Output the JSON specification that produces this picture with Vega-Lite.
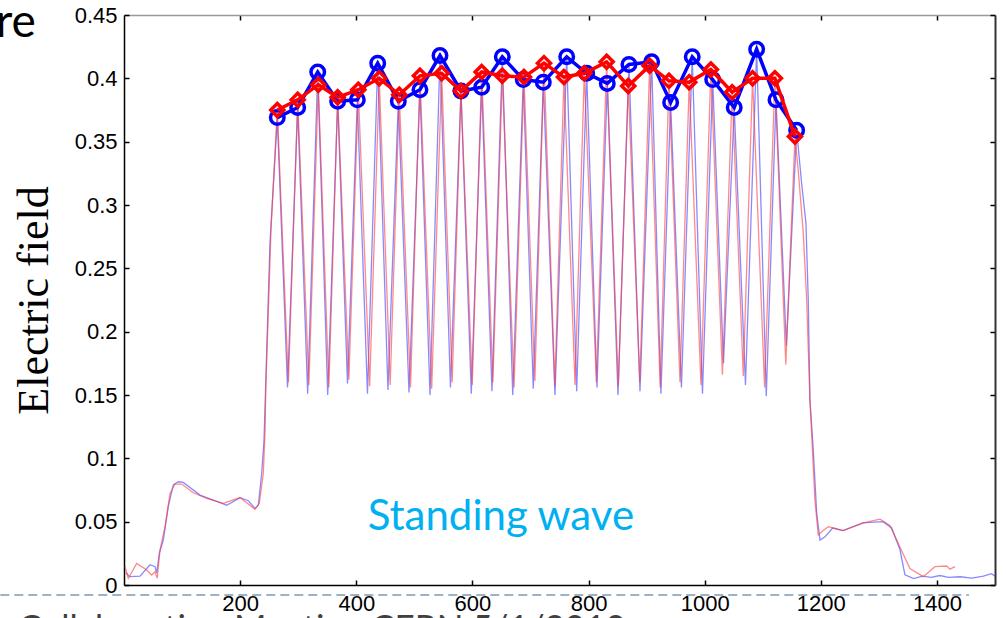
{
  "$schema": "https://vega.github.io/schema/vega-lite/v6.json",
  "autosize": {"type": "none"},
  "padding": {"left": 124, "top": 15, "right": 11, "bottom": 33},
  "width": 871,
  "height": 570,
  "background": "white",
  "config": {"view": {"stroke": null}},
  "datasets": {
    "traceBlue": [
      {"x": 3.4, "y": 0.0095}, {"x": 10.3, "y": 0.0066}, {"x": 27.6, "y": 0.007}, {"x": 44.8, "y": 0.016}, {"x": 53.4, "y": 0.0145}, {"x": 56.3, "y": 0.0095}, {"x": 60.8, "y": 0.025}, {"x": 67.7, "y": 0.0355}, {"x": 76.3, "y": 0.062}, {"x": 84.9, "y": 0.079}, {"x": 93.5, "y": 0.0815}, {"x": 102.1, "y": 0.081}, {"x": 130.9, "y": 0.071}, {"x": 159.6, "y": 0.066}, {"x": 176.9, "y": 0.063}, {"x": 199.8, "y": 0.069}, {"x": 214.1, "y": 0.0665}, {"x": 225.6, "y": 0.0605}, {"x": 231.3, "y": 0.063}, {"x": 237.1, "y": 0.088}, {"x": 241.1, "y": 0.114}, {"x": 242.8, "y": 0.14}, {"x": 251.4, "y": 0.27},
      {"x": 264.0, "y": 0.369}, {"x": 281.6, "y": 0.156}, {"x": 299.1, "y": 0.377}, {"x": 316.3, "y": 0.151}, {"x": 333.6, "y": 0.405}, {"x": 350.8, "y": 0.150}, {"x": 368.0, "y": 0.382}, {"x": 384.9, "y": 0.159}, {"x": 401.8, "y": 0.383}, {"x": 419.3, "y": 0.151}, {"x": 436.9, "y": 0.412}, {"x": 454.6, "y": 0.154}, {"x": 472.4, "y": 0.382}, {"x": 490.8, "y": 0.152}, {"x": 509.7, "y": 0.391}, {"x": 527.0, "y": 0.150}, {"x": 544.2, "y": 0.418}, {"x": 562.2, "y": 0.156}, {"x": 580.3, "y": 0.390}, {"x": 598.1, "y": 0.151}, {"x": 616.0, "y": 0.393}, {"x": 633.7, "y": 0.153}, {"x": 651.5, "y": 0.417}, {"x": 669.5, "y": 0.150}, {"x": 687.6, "y": 0.399}, {"x": 704.8, "y": 0.155}, {"x": 722.1, "y": 0.397}, {"x": 742.2, "y": 0.150}, {"x": 762.4, "y": 0.417}, {"x": 779.6, "y": 0.153}, {"x": 796.8, "y": 0.404}, {"x": 814.5, "y": 0.156}, {"x": 832.3, "y": 0.396}, {"x": 850.7, "y": 0.150}, {"x": 869.6, "y": 0.411}, {"x": 888.6, "y": 0.153}, {"x": 908.7, "y": 0.413}, {"x": 924.7, "y": 0.151}, {"x": 941.4, "y": 0.381}, {"x": 960.0, "y": 0.156}, {"x": 978.6, "y": 0.417}, {"x": 996.2, "y": 0.151}, {"x": 1013.8, "y": 0.399}, {"x": 1032.4, "y": 0.175}, {"x": 1050.9, "y": 0.377}, {"x": 1070.3, "y": 0.158}, {"x": 1089.5, "y": 0.423}, {"x": 1106.1, "y": 0.149}, {"x": 1122.8, "y": 0.383}, {"x": 1140.7, "y": 0.189}, {"x": 1158.4, "y": 0.359},
      {"x": 1167.0, "y": 0.317}, {"x": 1174.4, "y": 0.286}, {"x": 1178.4, "y": 0.225}, {"x": 1181.3, "y": 0.146}, {"x": 1187.0, "y": 0.107}, {"x": 1192.9, "y": 0.057}, {"x": 1198.6, "y": 0.0355}, {"x": 1207.2, "y": 0.038}, {"x": 1220.4, "y": 0.045}, {"x": 1238.2, "y": 0.043}, {"x": 1272.6, "y": 0.049}, {"x": 1307.0, "y": 0.050}, {"x": 1322.0, "y": 0.045}, {"x": 1336.3, "y": 0.028}, {"x": 1344.9, "y": 0.008}, {"x": 1360, "y": 0.005}, {"x": 1375, "y": 0.007}, {"x": 1390, "y": 0.006}, {"x": 1405, "y": 0.0075}, {"x": 1420, "y": 0.006}, {"x": 1440, "y": 0.0065}, {"x": 1460, "y": 0.0055}, {"x": 1480, "y": 0.007}, {"x": 1494, "y": 0.009}, {"x": 1500, "y": 0.007}
    ],
    "traceRed": [
      {"x": 1.7, "y": 0.0145}, {"x": 7.4, "y": 0.0053}, {"x": 21.9, "y": 0.017}, {"x": 39.1, "y": 0.0118}, {"x": 47.7, "y": 0.0079}, {"x": 53.4, "y": 0.0105}, {"x": 57.3, "y": 0.0053}, {"x": 62.0, "y": 0.0276}, {"x": 70.6, "y": 0.046}, {"x": 79.2, "y": 0.072}, {"x": 87.8, "y": 0.0797}, {"x": 99.4, "y": 0.0797}, {"x": 119.3, "y": 0.0728}, {"x": 142.4, "y": 0.0684}, {"x": 171.0, "y": 0.0645}, {"x": 199.8, "y": 0.069}, {"x": 225.6, "y": 0.0597}, {"x": 233.0, "y": 0.0645}, {"x": 239.9, "y": 0.088}, {"x": 242.8, "y": 0.12}, {"x": 244.5, "y": 0.16}, {"x": 253.1, "y": 0.28},
      {"x": 264.0, "y": 0.375}, {"x": 283.1, "y": 0.160}, {"x": 299.1, "y": 0.383}, {"x": 318.4, "y": 0.158}, {"x": 334.6, "y": 0.395}, {"x": 352.8, "y": 0.156}, {"x": 368.0, "y": 0.385}, {"x": 387.3, "y": 0.162}, {"x": 403.5, "y": 0.391}, {"x": 423.1, "y": 0.157}, {"x": 439.6, "y": 0.400}, {"x": 458.4, "y": 0.158}, {"x": 474.1, "y": 0.387}, {"x": 493.4, "y": 0.156}, {"x": 509.7, "y": 0.402}, {"x": 529.9, "y": 0.155}, {"x": 547.1, "y": 0.404}, {"x": 565.2, "y": 0.160}, {"x": 580.3, "y": 0.390}, {"x": 599.7, "y": 0.158}, {"x": 616.0, "y": 0.405}, {"x": 635.3, "y": 0.160}, {"x": 651.5, "y": 0.402}, {"x": 671.7, "y": 0.156}, {"x": 688.8, "y": 0.401}, {"x": 707.6, "y": 0.161}, {"x": 723.3, "y": 0.412}, {"x": 742.0, "y": 0.157}, {"x": 757.7, "y": 0.401}, {"x": 776.7, "y": 0.158}, {"x": 792.7, "y": 0.404}, {"x": 813.5, "y": 0.160}, {"x": 831.2, "y": 0.413}, {"x": 851.3, "y": 0.157}, {"x": 868.4, "y": 0.394}, {"x": 888.3, "y": 0.160}, {"x": 905.2, "y": 0.410}, {"x": 923.4, "y": 0.156}, {"x": 938.5, "y": 0.398}, {"x": 957.5, "y": 0.160}, {"x": 973.4, "y": 0.397}, {"x": 993.6, "y": 0.158}, {"x": 1010.7, "y": 0.407}, {"x": 1030.6, "y": 0.166}, {"x": 1047.4, "y": 0.389}, {"x": 1066.5, "y": 0.165}, {"x": 1082.5, "y": 0.400}, {"x": 1103.2, "y": 0.156}, {"x": 1120.9, "y": 0.400}, {"x": 1139.7, "y": 0.174}, {"x": 1155.5, "y": 0.354},
      {"x": 1161.2, "y": 0.327}, {"x": 1169.8, "y": 0.278}, {"x": 1175.7, "y": 0.225}, {"x": 1181.3, "y": 0.146}, {"x": 1189.9, "y": 0.067}, {"x": 1195.6, "y": 0.0395}, {"x": 1204.2, "y": 0.043}, {"x": 1212.8, "y": 0.046}, {"x": 1221.5, "y": 0.045}, {"x": 1238.7, "y": 0.043}, {"x": 1273.1, "y": 0.049}, {"x": 1301.9, "y": 0.052}, {"x": 1319.1, "y": 0.047}, {"x": 1336.3, "y": 0.030}, {"x": 1353.5, "y": 0.013}, {"x": 1376.4, "y": 0.0066}, {"x": 1396.6, "y": 0.0145}, {"x": 1416.7, "y": 0.015}, {"x": 1422.4, "y": 0.0125}, {"x": 1431.0, "y": 0.0145}
    ],
    "markBlue": [
      {"x": 264.0, "y": 0.369}, {"x": 299.1, "y": 0.377}, {"x": 333.6, "y": 0.405}, {"x": 368.0, "y": 0.382}, {"x": 401.8, "y": 0.383}, {"x": 436.9, "y": 0.412}, {"x": 472.4, "y": 0.382}, {"x": 509.7, "y": 0.391}, {"x": 544.2, "y": 0.418}, {"x": 580.3, "y": 0.390}, {"x": 616.0, "y": 0.393}, {"x": 651.5, "y": 0.417}, {"x": 687.6, "y": 0.399}, {"x": 722.1, "y": 0.397}, {"x": 762.4, "y": 0.417}, {"x": 796.8, "y": 0.404}, {"x": 832.3, "y": 0.396}, {"x": 869.6, "y": 0.411}, {"x": 908.7, "y": 0.413}, {"x": 941.4, "y": 0.381}, {"x": 978.6, "y": 0.417}, {"x": 1013.8, "y": 0.399}, {"x": 1050.9, "y": 0.377}, {"x": 1089.5, "y": 0.423}, {"x": 1122.8, "y": 0.383}, {"x": 1158.4, "y": 0.359}
    ],
    "markRed": [
      {"x": 264.0, "y": 0.375}, {"x": 299.1, "y": 0.383}, {"x": 334.6, "y": 0.395}, {"x": 368.0, "y": 0.385}, {"x": 403.5, "y": 0.391}, {"x": 439.6, "y": 0.400}, {"x": 474.1, "y": 0.387}, {"x": 509.7, "y": 0.402}, {"x": 547.1, "y": 0.404}, {"x": 580.3, "y": 0.390}, {"x": 616.0, "y": 0.405}, {"x": 651.5, "y": 0.402}, {"x": 688.8, "y": 0.401}, {"x": 723.3, "y": 0.412}, {"x": 757.7, "y": 0.401}, {"x": 792.7, "y": 0.404}, {"x": 831.2, "y": 0.413}, {"x": 868.4, "y": 0.394}, {"x": 905.2, "y": 0.410}, {"x": 938.5, "y": 0.398}, {"x": 973.4, "y": 0.397}, {"x": 1010.7, "y": 0.407}, {"x": 1047.4, "y": 0.389}, {"x": 1082.5, "y": 0.400}, {"x": 1120.9, "y": 0.400}, {"x": 1155.5, "y": 0.354}
    ]
  },
  "resolve": {"axis": {"x": "independent", "y": "independent"}},
  "layer": [
    {
      "encoding": {
        "x": {"field": "x", "type": "quantitative", "scale": {"domain": [0, 1500], "nice": false, "zero": false},
          "axis": {"orient": "bottom", "title": null, "values": [200, 400, 600, 800, 1000, 1200, 1400], "format": "d", "grid": false,
            "labelFont": "Liberation Sans", "labelFontSize": 22, "labelColor": "#000000", "labelPadding": 13,
            "tickSize": -5, "tickColor": "#000000", "tickWidth": 1.5, "domainColor": "#000000", "domainWidth": 1.5}},
        "y": {"field": "y", "type": "quantitative", "scale": {"domain": [0, 0.45], "nice": false, "zero": false},
          "axis": {"orient": "left", "title": "Electric field", "values": [0, 0.05, 0.1, 0.15, 0.2, 0.25, 0.3, 0.35, 0.4, 0.45], "format": "~g", "grid": false,
            "labelFont": "Liberation Sans", "labelFontSize": 22, "labelColor": "#000000", "labelPadding": 12,
            "tickSize": -5, "tickColor": "#000000", "tickWidth": 1.5, "domainColor": "#000000", "domainWidth": 1.5,
            "titleFont": "Liberation Serif", "titleFontSize": 44, "titleFontWeight": "normal", "titleColor": "#000000", "titlePadding": 18}}
      },
      "layer": [
        {"data": {"name": "traceBlue"}, "mark": {"type": "line", "color": "#3a3aff", "strokeWidth": 1.3, "opacity": 0.6, "clip": true}},
        {"data": {"name": "traceRed"}, "mark": {"type": "line", "color": "#ff3a3a", "strokeWidth": 1.3, "opacity": 0.6, "clip": true}},
        {"data": {"name": "markBlue"}, "mark": {"type": "line", "color": "#0000ff", "strokeWidth": 3.5,
          "point": {"filled": false, "shape": "circle", "size": 182, "strokeWidth": 3.5, "color": "#0000ff"}}},
        {"data": {"name": "markRed"}, "mark": {"type": "line", "color": "#ff0000", "strokeWidth": 3.5,
          "point": {"filled": false, "shape": "diamond", "size": 170, "strokeWidth": 3.5, "color": "#ff0000"}}},
        {"data": {"values": [{"x": 649, "y": 0.0434, "label": "Standing wave"}]},
          "mark": {"type": "text", "font": "Lato", "fontSize": 42, "color": "#00B0F0", "align": "center", "baseline": "alphabetic"},
          "encoding": {"text": {"field": "label"}}},
        {"data": {"values": [{"x": -152, "y": 0.4326, "label": "re"}]},
          "mark": {"type": "text", "font": "Lato", "fontSize": 46, "color": "#000000", "align": "right", "baseline": "alphabetic", "clip": false},
          "encoding": {"text": {"field": "label"}}},
        {"data": {"values": [{"x": -182, "y": -0.0434, "label": "Collaboration Meeting CERN  5/1/2010"}]},
          "mark": {"type": "text", "font": "Lato", "fontSize": 35, "color": "#404040", "align": "left", "baseline": "alphabetic", "clip": false},
          "encoding": {"text": {"field": "label"}}},
        {"data": {"values": [{"x": -213, "x2": 1455, "y": -0.0079}]},
          "mark": {"type": "rule", "color": "#9db2c6", "strokeWidth": 2, "strokeDash": [9, 5], "clip": false},
          "encoding": {"x2": {"field": "x2"}}}
      ]
    },
    {
      "data": {"name": "markBlue"},
      "mark": {"type": "point", "opacity": 0},
      "encoding": {
        "x": {"field": "x", "type": "quantitative",
          "axis": {"orient": "top", "title": null, "labels": false, "values": [200, 400, 600, 800, 1000, 1200, 1400], "grid": false,
            "tickSize": -5, "tickColor": "#000000", "tickWidth": 1.5, "domainColor": "#999999", "domainWidth": 1.5}},
        "y": {"field": "y", "type": "quantitative",
          "axis": {"orient": "right", "title": null, "labels": false, "values": [0, 0.05, 0.1, 0.15, 0.2, 0.25, 0.3, 0.35, 0.4, 0.45], "grid": false,
            "tickSize": -5, "tickColor": "#000000", "tickWidth": 1.5, "domainColor": "#333333", "domainWidth": 2}}
      }
    }
  ]
}
